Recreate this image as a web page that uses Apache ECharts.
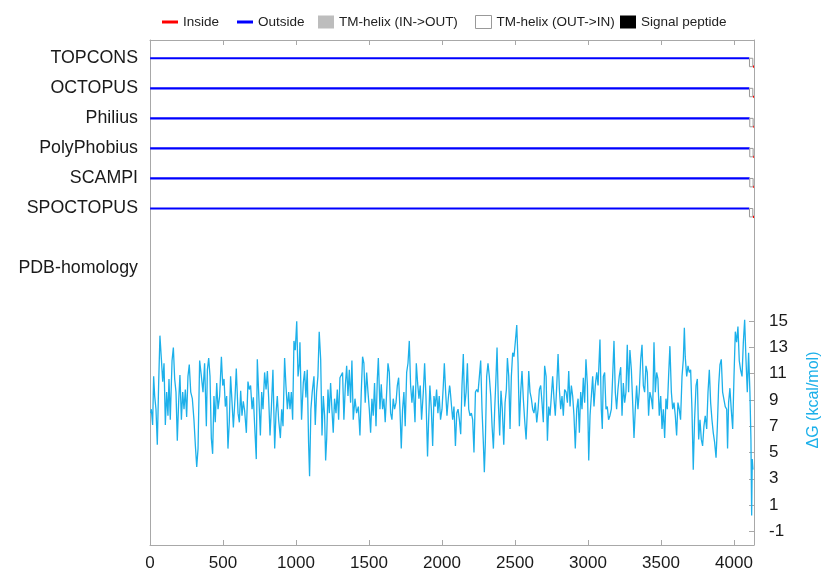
<!DOCTYPE html>
<html>
<head>
<meta charset="utf-8">
<script src="https://cdn.jsdelivr.net/npm/echarts@6/dist/echarts.min.js"></script>
<style>html,body{margin:0;padding:0;background:#fff}#c{width:821px;height:572px}</style>
</head>
<body>
<div id="c"></div>
<script>
// ---------- data ----------
const seqLength = 4137;
const methods = ['TOPCONS', 'OCTOPUS', 'Philius', 'PolyPhobius', 'SCAMPI', 'SPOCTOPUS'];
const trackLabels = ['TOPCONS', 'OCTOPUS', 'Philius', 'PolyPhobius', 'SCAMPI', 'SPOCTOPUS', '', 'PDB-homology'];
const outsideStart = [1, 1, 1, 1, 1, 1];
const outsideEnd = [4105, 4105, 4107, 4107, 4107, 4105];
const helixOutInStart = [4106, 4106, 4108, 4108, 4108, 4106];
const helixOutInEnd = [4129, 4129, 4131, 4131, 4131, 4129];
const insideStart = [4130, 4130, 4132, 4132, 4132, 4130];
const insideEnd = [4137, 4137, 4137, 4137, 4137, 4137];

const xTicks = [0, 500, 1000, 1500, 2000, 2500, 3000, 3500, 4000];
const dgTicks = [-1, 1, 3, 5, 7, 9, 11, 13, 15];

const dgResidue = [5,9,18,25,32,41,50,59,68,78,87,96,105,114,123,130,139,151,160,169,178,187,196,205,215,224,233,242,251,260,269,279,290,301,311,320,329,340,352,363,374,386,393,402,411,420,429,438,447,457,466,477,489,498,507,516,525,534,543,552,562,571,582,591,603,612,621,630,639,648,660,671,680,689,699,708,717,728,735,747,756,765,774,785,795,804,813,822,831,842,854,863,872,881,893,902,911,922,931,941,950,959,968,977,986,995,1005,1014,1023,
1027,1038,1050,1059,1068,1077,1086,1093,1102,1111,1123,1132,1141,1150,1159,1169,1178,1187,1196,1203,1210,1219,1228,1237,1246,1255,1264,1274,1283,1292,1301,1310,1319,1328,1338,1347,1356,1365,1374,1383,1392,1404,1415,1427,1438,1447,1456,1465,1474,1484,1493,1502,1511,1520,1529,1538,1548,1557,1564,1575,1584,1593,1602,1611,1621,1630,1639,1648,1657,1666,1675,1685,1694,1703,1712,1721,1730,1739,1748,1758,1767,1776,1785,1794,1803,1815,1824,1833,1842,1851,1860,1872,1881,1890,1901,1908,1917,1927,1936,1945,1954,1963,1972,1981,1990,2000,2009,2016,2025,2034,2043,2052,
2055,2064,2073,2082,2092,2101,2110,2119,2128,2137,2146,2155,2165,2174,2183,2192,2201,2210,2219,2229,2238,2247,2256,2265,2274,2283,2290,2297,2306,2315,2324,2334,2343,2352,2361,2370,2377,2386,2395,2404,2413,2423,2432,2441,2448,2457,2466,2475,2484,2493,2502,2512,2521,2530,2539,2548,2557,2566,2576,2585,2594,2603,2612,2621,2630,2639,2649,2658,2667,2676,2685,2694,2703,2713,2722,2731,2740,2749,2758,2767,2776,2786,2795,2804,2813,2822,2831,2840,2850,2859,2868,2877,2886,2895,2904,2913,2923,2932,2941,2950,2959,2968,2977,2986,2996,3005,3014,3023,3032,3041,3050,3060,3069,
3082,3091,3098,3105,3114,3123,3132,3141,3150,3160,3169,3178,3187,3196,3205,3214,3224,3233,3242,3251,3260,3269,3278,3287,3297,3306,3315,3324,3333,3342,3351,3361,3370,3379,3388,3397,3406,3415,3424,3434,3443,3452,3461,3470,3479,3488,3498,3507,3516,3525,3534,3543,3552,3561,3571,3580,3589,3598,3607,3616,3625,3634,3644,3653,3660,3666,3676,3685,3694,3703,3712,3721,3730,3740,3749,3758,3767,3776,3785,3794,3803,3813,3822,3831,3840,3849,3858,3867,3877,3886,3895,3904,3913,3922,3931,3940,3950,3956,3963,3972,3981,3991,4000,4009,4018,4027,4036,4045,4055,4064,4073,4082,4091,4100,4109,4116,4121,4125,4130];

const dgValue = [8.0,8.3,7.1,10.8,9.3,8.3,5.6,10.1,13.9,12.1,10.4,11.8,7.1,9.6,7.8,10.6,7.5,12.0,13.0,10.6,9.6,5.9,8.8,10.9,7.5,9.6,8.3,9.8,7.7,10.8,11.7,9.6,9.1,7.5,5.5,3.9,5.3,12.0,10.8,9.6,11.8,7.0,11.3,12.2,10.8,6.1,4.9,9.3,7.3,10.3,8.3,9.3,12.3,10.1,10.6,8.5,9.3,5.3,7.3,10.8,8.8,6.9,9.1,11.4,8.0,7.3,9.7,7.8,8.9,8.2,6.5,10.4,9.8,10.1,8.3,9.2,7.0,4.5,12.1,8.8,6.3,9.6,8.3,11.1,9.8,11.2,9.1,6.3,8.3,11.3,5.3,8.0,9.3,7.5,6.1,8.3,7.0,12.2,10.1,8.3,9.6,8.3,9.6,7.5,13.5,12.8,15.0,10.8,11.8,
13.4,7.5,10.3,11.2,9.2,11.3,5.8,3.2,8.3,9.6,10.8,7.1,9.6,10.8,14.2,12.1,6.3,9.3,7.8,4.4,6.0,9.8,8.0,10.3,8.3,6.5,9.1,8.0,9.8,7.5,10.7,10.8,11.1,7.5,10.1,11.6,9.3,11.3,8.8,12.0,7.5,9.1,8.0,8.5,6.3,9.6,12.3,11.8,8.8,11.1,9.6,8.3,6.5,9.1,7.8,10.3,7.0,10.6,12.2,8.3,10.2,8.3,9.1,7.3,9.6,11.8,11.1,8.0,7.5,9.1,8.3,8.8,10.1,10.7,8.3,5.3,8.3,9.6,7.0,11.1,11.8,13.5,10.1,8.8,10.1,7.3,11.8,10.3,9.1,10.1,7.5,9.6,11.8,9.3,4.7,7.3,10.1,8.3,5.5,9.3,8.5,9.8,8.0,9.3,7.5,8.3,10.1,11.8,9.6,7.8,9.1,10.1,
9.9,9.8,7.5,8.5,5.5,8.0,8.3,7.5,6.4,10.1,12.5,8.5,9.6,11.8,8.3,7.8,8.0,7.5,5.0,9.6,9.8,9.6,10.8,12.0,8.3,5.8,3.5,5.8,10.8,11.8,10.8,9.3,7.0,5.3,8.3,10.8,13.0,8.8,6.3,9.7,8.3,5.6,8.8,9.8,12.2,10.8,6.8,10.8,12.6,12.3,13.4,14.7,11.8,7.0,9.6,11.2,9.1,7.5,6.0,8.3,11.2,9.6,9.1,8.3,8.0,8.8,7.3,8.3,9.8,10.1,8.8,7.3,11.6,10.8,5.9,8.5,7.8,9.3,10.8,9.1,7.8,10.1,12.5,9.8,8.3,9.3,7.8,9.8,9.6,8.8,11.2,8.5,10.1,9.3,7.8,5.3,8.3,9.1,6.5,9.6,8.3,10.7,8.8,12.1,10.1,4.4,7.8,9.3,10.8,8.5,10.1,11.1,10.1,
13.6,8.3,6.8,10.8,11.1,8.3,8.5,7.5,7.8,8.3,10.8,13.5,9.6,8.3,9.8,10.8,11.5,7.8,10.3,8.8,9.6,13.2,9.6,12.8,11.3,8.8,6.1,8.3,10.1,8.3,9.6,12.1,13.2,10.1,9.6,11.6,11.1,7.8,9.6,9.1,8.3,13.4,9.6,11.1,10.6,7.8,9.3,6.8,8.3,6.1,9.1,8.3,10.8,13.1,9.6,8.3,8.8,7.8,6.3,8.8,8.3,7.5,10.8,12.1,14.5,12.3,10.8,11.6,11.1,11.3,8.3,3.7,7.5,10.1,10.6,6.0,7.5,6.0,5.5,7.0,7.8,6.8,9.6,11.3,8.8,7.5,6.5,5.8,4.6,7.0,10.1,11.7,12.1,9.6,9.6,8.5,8.3,5.3,8.8,9.9,8.3,6.8,10.8,14.2,13.4,14.6,12.0,11.3,10.8,13.4,15.1,12.1,9.6,12.6,9.6,6.0,0.2,4.5,3.7];

// ---------- build ----------
const INSIDE_OFFSET = 0.28;
const outsideData = methods.map((m, i) => [i, outsideStart[i], outsideEnd[i]]);
const insideData = methods.map((m, i) => [i, insideStart[i], insideEnd[i]]);
const helixOutInData = methods.map((m, i) => [i, helixOutInStart[i], helixOutInEnd[i]]);
const dgData = dgResidue.map((r, i) => [r, dgValue[i]]);

const FONT = "'Liberation Sans', Arial, Helvetica, sans-serif";
const FRAME = '#a8a8a8';
const DG_COLOR = '#1cb0ea';

function lineRender(offset, color) {
  return function (params, api) {
    const row = api.value(0) + offset;
    const p1 = api.coord([api.value(1), row]);
    const p2 = api.coord([api.value(2), row]);
    return { type: 'line', shape: { x1: p1[0], y1: p1[1], x2: p2[0], y2: p2[1] },
             style: { stroke: color, lineWidth: 2.2 } };
  };
}
function boxRender(fill, stroke) {
  return function (params, api) {
    const row = api.value(0);
    const p1 = api.coord([api.value(1), row]);
    const p2 = api.coord([api.value(2), row + INSIDE_OFFSET]);
    return { type: 'rect', shape: { x: p1[0], y: p1[1], width: p2[0] - p1[0], height: p2[1] - p1[1] },
             style: { fill: fill, stroke: stroke, lineWidth: 1 } };
  };
}

function legendItem(name, left, top, h, style) {
  return {
    left: left, top: top, padding: 0, itemWidth: 16, itemHeight: h, selectedMode: false,
    textStyle: { fontSize: 13.5, color: '#222', fontFamily: FONT },
    data: [{ name: name, icon: 'rect', itemStyle: style }]
  };
}

const chart = echarts.init(document.getElementById('c'), null, { renderer: 'canvas' });
chart.setOption({
  animation: false,
  textStyle: { fontFamily: FONT },
  legend: [
    legendItem('Inside', 162, 15, 3, { color: '#ff0000', borderWidth: 0 }),
    legendItem('Outside', 237, 15, 3, { color: '#0000ff', borderWidth: 0 }),
    legendItem('TM-helix (IN->OUT)', 318, 15, 13, { color: '#bdbdbd', borderWidth: 0 }),
    legendItem('TM-helix (OUT->IN)', 475, 15, 13, { color: '#ffffff', borderColor: '#999', borderWidth: 1 }),
    legendItem('Signal peptide', 620, 15, 13, { color: '#000000', borderWidth: 0 })
  ],
  grid: { left: 150, right: 67, top: 40, bottom: 26 },
  xAxis: [
    { type: 'value', min: 0, max: seqLength, position: 'bottom',
      axisLine: { show: true, onZero: false, lineStyle: { color: FRAME } },
      axisTick: { show: true, inside: true, length: 5, customValues: xTicks, lineStyle: { color: FRAME } },
      axisLabel: { customValues: xTicks, color: '#1a1a1a', fontSize: 17, margin: 10, formatter: v => String(v) },
      splitLine: { show: false } },
    { type: 'value', min: 0, max: seqLength, position: 'top',
      axisLine: { show: true, onZero: false, lineStyle: { color: FRAME } },
      axisTick: { show: true, inside: true, length: 5, customValues: xTicks, lineStyle: { color: FRAME } },
      axisLabel: { show: false }, splitLine: { show: false } }
  ],
  yAxis: [
    { type: 'value', min: -0.608, max: 16.2, inverse: true, position: 'left',
      axisLine: { show: true, onZero: false, lineStyle: { color: FRAME } },
      axisTick: { show: false },
      axisLabel: { customValues: [0, 1, 2, 3, 4, 5, 7], fontSize: 17.8, color: '#1a1a1a', margin: 12,
                   formatter: v => trackLabels[Math.round(v)] },
      splitLine: { show: false } },
    { type: 'value', min: -2.04, max: 36.41, position: 'right',
      axisLine: { show: true, onZero: false, lineStyle: { color: FRAME } },
      axisTick: { show: true, inside: true, length: 5, customValues: dgTicks, lineStyle: { color: FRAME } },
      axisLabel: { customValues: dgTicks, fontSize: 17, color: '#1a1a1a', margin: 15 },
      splitLine: { show: false } }
  ],
  series: [
    { name: 'Outside', type: 'custom', xAxisIndex: 0, yAxisIndex: 0, renderItem: lineRender(0, '#0000ff'),
      itemStyle: { color: '#0000ff' }, encode: { x: [1, 2], y: 0 }, data: outsideData, silent: true },
    { name: 'TM-helix (OUT->IN)', type: 'custom', xAxisIndex: 0, yAxisIndex: 0, renderItem: boxRender('#ffffff', '#999999'),
      itemStyle: { color: '#ffffff' }, encode: { x: [1, 2], y: 0 }, data: helixOutInData, silent: true },
    { name: 'Inside', type: 'custom', xAxisIndex: 0, yAxisIndex: 0, renderItem: lineRender(INSIDE_OFFSET, '#ff0000'),
      itemStyle: { color: '#ff0000' }, encode: { x: [1, 2], y: 0 }, data: insideData, silent: true },
    { name: 'TM-helix (IN->OUT)', type: 'custom', xAxisIndex: 0, yAxisIndex: 0, renderItem: boxRender('#bdbdbd', '#bdbdbd'),
      itemStyle: { color: '#bdbdbd' }, encode: { x: [1, 2], y: 0 }, data: [], silent: true },
    { name: 'Signal peptide', type: 'custom', xAxisIndex: 0, yAxisIndex: 0, renderItem: boxRender('#000000', '#000000'),
      itemStyle: { color: '#000000' }, encode: { x: [1, 2], y: 0 }, data: [], silent: true },
    { name: 'dG', type: 'line', xAxisIndex: 0, yAxisIndex: 1, data: dgData, showSymbol: false, symbol: 'none',
      lineStyle: { color: DG_COLOR, width: 1.3 }, itemStyle: { color: DG_COLOR }, silent: true }
  ],
  graphic: [
    { type: 'text', x: 814, y: 400, rotation: Math.PI / 2,
      style: { text: 'ΔG (kcal/mol)', fill: DG_COLOR, fontSize: 16, fontFamily: FONT, align: 'center', verticalAlign: 'middle' } }
  ]
});
</script>
</body>
</html>
